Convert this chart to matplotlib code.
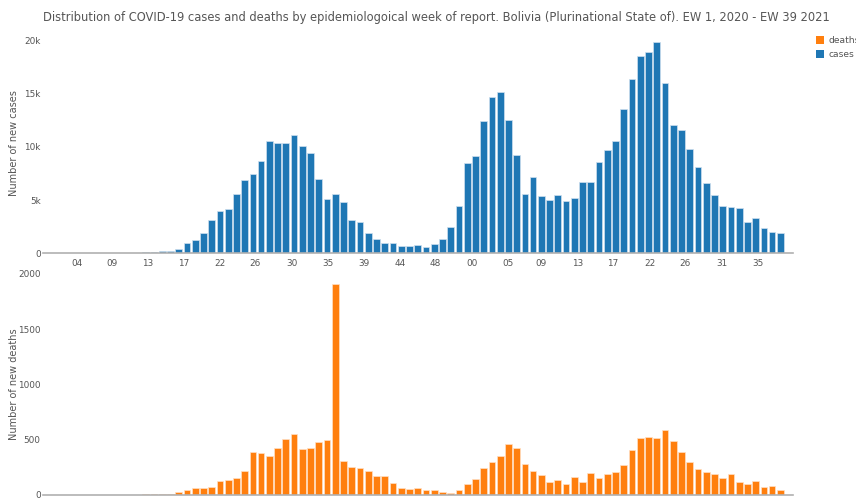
"""Bolivia COVID-19 weekly cases and deaths, two stacked bar panels."""
import matplotlib

matplotlib.use("Agg")

import matplotlib.dates as mdates
import matplotlib.pyplot as plt
import pandas as pd
from matplotlib.patches import Patch
from matplotlib.ticker import FuncFormatter

TITLE = ("Distribution of COVID-19 cases and deaths by epidemiologoical week of report. "
         "Bolivia (Plurinational State of). EW 1, 2020 - EW 39 2021")

# one bar per week, week dates start Monday 2020-01-06
week_start = "2020-01-06"
n_weeks = 91

cases = [
    0, 0, 0, 0, 0, 0, 0, 0, 0, 10, 20, 60,
    100, 150, 220, 250, 410, 1000, 1250, 1940, 3130, 3950, 4200, 5550,
    6890, 7420, 8710, 10560, 10370, 10370, 11120, 10090, 9460, 6950,
    5110, 5570, 4850, 3130, 2950, 1940, 1350, 1000, 1000, 690, 690,
    750, 630, 850, 1350, 2470, 4420, 8490, 9110, 12460, 14720, 15160,
    12530, 9210, 5610, 7200, 5390, 5050, 5450, 4920, 5230, 6670, 6730,
    8550, 9680, 10560, 13590, 16350, 18540, 18920, 19860, 16030, 12060,
    11560, 9800, 8110, 6580, 5450, 4420, 4320, 4300, 2970, 3290, 2410,
    2030, 1880, 0,
]

deaths = [
    0, 0, 0, 0, 0, 0, 0, 0, 0, 0, 1, 3,
    12, 12, 12, 12, 24, 42, 60, 66, 72, 124, 133, 157,
    217, 386, 380, 350, 422, 506, 549, 416, 428, 482,
    500, 1910, 304, 253, 247, 217, 175, 169, 109, 66, 54,
    66, 42, 42, 24, 18, 48, 102, 145, 241, 301, 356,
    464, 422, 283, 217, 181, 115, 139, 102, 163, 121, 199,
    157, 193, 205, 271, 404, 518, 524, 518, 591, 488,
    386, 295, 235, 205, 187, 151, 193, 115, 102, 127, 72,
    78, 48, 0,
]

CASES_COLOR = "#1f77b4"
DEATHS_COLOR = "#ff7f0e"
TEXT_COLOR = "#555555"

dates = pd.date_range(week_start, periods=n_weeks, freq="7D")
x_min = dates[0] - pd.Timedelta(days=3.5)
x_max = dates[-1] + pd.Timedelta(days=3.5)

plt.rcParams["font.family"] = ["DejaVu Sans"]

fig = plt.figure(figsize=(8.56, 5.0), dpi=100)
ax_cases = fig.add_axes([0.0499, 0.4934, 0.8762, 0.4426])
ax_deaths = fig.add_axes([0.0499, 0.010, 0.8762, 0.444])


def style_axis(ax, ylim, ylabel, formatter):
    ax.set_xlim(x_min, x_max)
    ax.set_ylim(*ylim)
    for side in ("top", "right", "left"):
        ax.spines[side].set_visible(False)
    ax.spines["bottom"].set_color("#b0b0b0")
    ax.spines["bottom"].set_linewidth(1.2)
    ax.xaxis.set_major_locator(mdates.MonthLocator(bymonthday=1))
    ax.xaxis.set_major_formatter(mdates.DateFormatter("%U"))
    ax.yaxis.set_major_formatter(formatter)
    ax.tick_params(axis="both", length=0, labelsize=6.4, colors=TEXT_COLOR)
    ax.tick_params(axis="x", pad=4)
    ax.tick_params(axis="y", pad=1.5)
    ax.set_ylabel(ylabel, fontsize=7, color=TEXT_COLOR)
    ax.yaxis.set_label_coords(-0.032, 0.5)


def k_fmt(v, _pos):
    return "0" if v == 0 else f"{v / 1000:g}k"


ax_cases.bar(dates, cases, width=5.7, color=CASES_COLOR,
             edgecolor="#cfe0ef", linewidth=0.5)
ax_deaths.bar(dates, deaths, width=5.7, color=DEATHS_COLOR,
              edgecolor="#ffe0c4", linewidth=0.5)

style_axis(ax_cases, (0, 20800), "Number of new cases", FuncFormatter(k_fmt))
ax_cases.set_yticks([0, 5000, 10000, 15000, 20000])
style_axis(ax_deaths, (0, 2007), "Number of new deaths",
           FuncFormatter(lambda v, _p: f"{v:g}"))
ax_deaths.set_yticks([0, 500, 1000, 1500, 2000])

fig.text(0.51, 0.966, TITLE, ha="center", va="center",
         fontsize=8.3, color=TEXT_COLOR)

handles = [Patch(facecolor=DEATHS_COLOR, label="deaths"),
           Patch(facecolor=CASES_COLOR, label="cases")]
fig.legend(handles=handles, loc="upper left", bbox_to_anchor=(0.953, 0.928),
           frameon=False, fontsize=6.6, handlelength=0.9, handleheight=0.9,
           handletextpad=0.45, labelspacing=0.55, borderaxespad=0,
           borderpad=0, labelcolor=TEXT_COLOR)

fig.savefig("out.png", dpi=100)
